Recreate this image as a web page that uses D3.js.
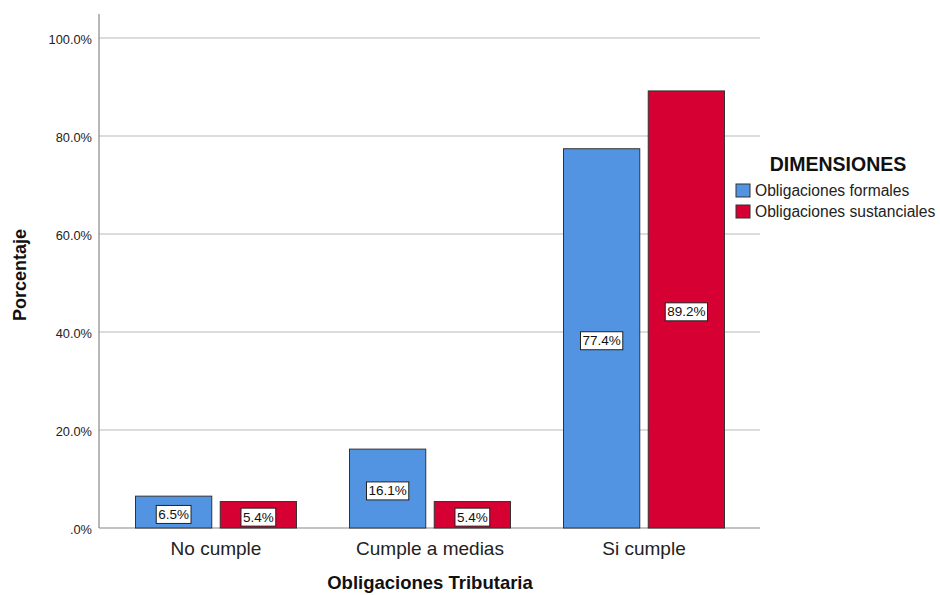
<!DOCTYPE html>
<html><head><meta charset="utf-8">
<script src="https://cdn.jsdelivr.net/npm/d3@7"></script>
<style>body{margin:0;background:#fff}svg{display:block}text{font-family:"Liberation Sans",Arial,sans-serif}</style>
</head><body><svg id="c" width="940" height="595"></svg>
<script>
const categories = ["No cumple", "Cumple a medias", "Si cumple"];
const seriesNames = ["Obligaciones formales", "Obligaciones sustanciales"];
const formales = [6.5, 16.1, 77.4];
const sustanciales = [5.4, 5.4, 89.2];
const yTicks = [0, 20, 40, 60, 80, 100];
const colors = ["#5294E2", "#D60032"];

(function() {
const svg = d3.select("#c");
const pLeft = 99, pRight = 760, pTop = 14, pBottom = 528;
const y = d3.scaleLinear().domain([0, 100]).range([pBottom, 38]);
const x = d3.scaleBand().domain(categories).range([109, 751]).padding(0);
const xs = d3.scaleBand().domain(seriesNames).range([0, 161]).paddingInner(0.1);

// gridlines
svg.append("g").selectAll("line").data(yTicks.filter(d => d > 0)).join("line")
  .attr("x1", pLeft).attr("x2", pRight).attr("y1", d => y(d)).attr("y2", d => y(d))
  .attr("stroke", "#d0d0d0").attr("stroke-width", 1.3);

// y axis
const yAxis = d3.axisLeft(y).tickValues(yTicks).tickSize(0).tickPadding(7)
  .tickFormat(d => d === 0 ? ".0%" : d.toFixed(1) + "%");
const gy = svg.append("g").attr("transform", `translate(${pLeft},0)`).call(yAxis);
gy.select(".domain").remove();
gy.selectAll("text").attr("font-size", 12.8).attr("fill", "#222").attr("dy", "0.4em");
svg.append("line").attr("x1", pLeft).attr("x2", pLeft).attr("y1", pTop).attr("y2", pBottom)
  .attr("stroke", "#888").attr("stroke-width", 1.2);
svg.append("line").attr("x1", pLeft).attr("x2", pRight).attr("y1", pBottom).attr("y2", pBottom)
  .attr("stroke", "#888").attr("stroke-width", 1.2);

// bars
const data = [];
categories.forEach((c, i) => {
  data.push({cat: c, s: seriesNames[0], v: formales[i], col: colors[0]});
  data.push({cat: c, s: seriesNames[1], v: sustanciales[i], col: colors[1]});
});
const groupOff = (x.bandwidth() - 161) / 2;
const g = svg.append("g");
g.selectAll("rect.bar").data(data).join("rect").attr("class", "bar")
  .attr("x", d => x(d.cat) + groupOff + xs(d.s))
  .attr("width", xs.bandwidth())
  .attr("y", d => y(d.v)).attr("height", d => pBottom - y(d.v))
  .attr("fill", d => d.col).attr("stroke", "#333").attr("stroke-width", 1);

// value labels
const lab = g.selectAll("g.lab").data(data).join("g").attr("class", "lab")
  .attr("transform", d => `translate(${x(d.cat) + groupOff + xs(d.s) + xs.bandwidth() / 2},${(y(d.v) + pBottom) / 2 + 2})`);
lab.append("text").attr("text-anchor", "middle").attr("dy", "0.36em")
  .attr("font-size", 13.5).attr("fill", "#111").text(d => d.v.toFixed(1) + "%");
lab.each(function() {
  const t = d3.select(this).select("text");
  const b = t.node().getBBox();
  d3.select(this).insert("rect", "text")
    .attr("x", b.x - 2).attr("y", b.y - 1.5).attr("width", b.width + 4).attr("height", b.height + 3)
    .attr("fill", "#fff").attr("stroke", "#222").attr("stroke-width", 1);
});

// x tick labels
svg.append("g").selectAll("text").data(categories).join("text")
  .attr("x", d => x(d) + x.bandwidth() / 2).attr("y", 555)
  .attr("text-anchor", "middle").attr("font-size", 19).attr("fill", "#222").text(d => d);

// axis titles
svg.append("text").attr("x", 430).attr("y", 589).attr("text-anchor", "middle")
  .attr("font-size", 18.5).attr("font-weight", "bold").attr("fill", "#111").text("Obligaciones Tributaria");
svg.append("text").attr("transform", "translate(26,275) rotate(-90)").attr("text-anchor", "middle")
  .attr("font-size", 18).attr("font-weight", "bold").attr("fill", "#111").text("Porcentaje");

// legend
svg.append("text").attr("x", 838).attr("y", 171).attr("text-anchor", "middle")
  .attr("font-size", 19.5).attr("font-weight", "bold").attr("fill", "#111").text("DIMENSIONES");
const lg = svg.append("g").selectAll("g").data(seriesNames).join("g")
  .attr("transform", (d, i) => `translate(736,${184 + i * 21})`);
lg.append("rect").attr("width", 14).attr("height", 13)
  .attr("fill", (d, i) => colors[i]).attr("stroke", "#333").attr("stroke-width", 1);
lg.append("text").attr("x", 19).attr("y", 12).attr("font-size", 15.6).attr("fill", "#222").text(d => d);
})();
</script></body></html>
